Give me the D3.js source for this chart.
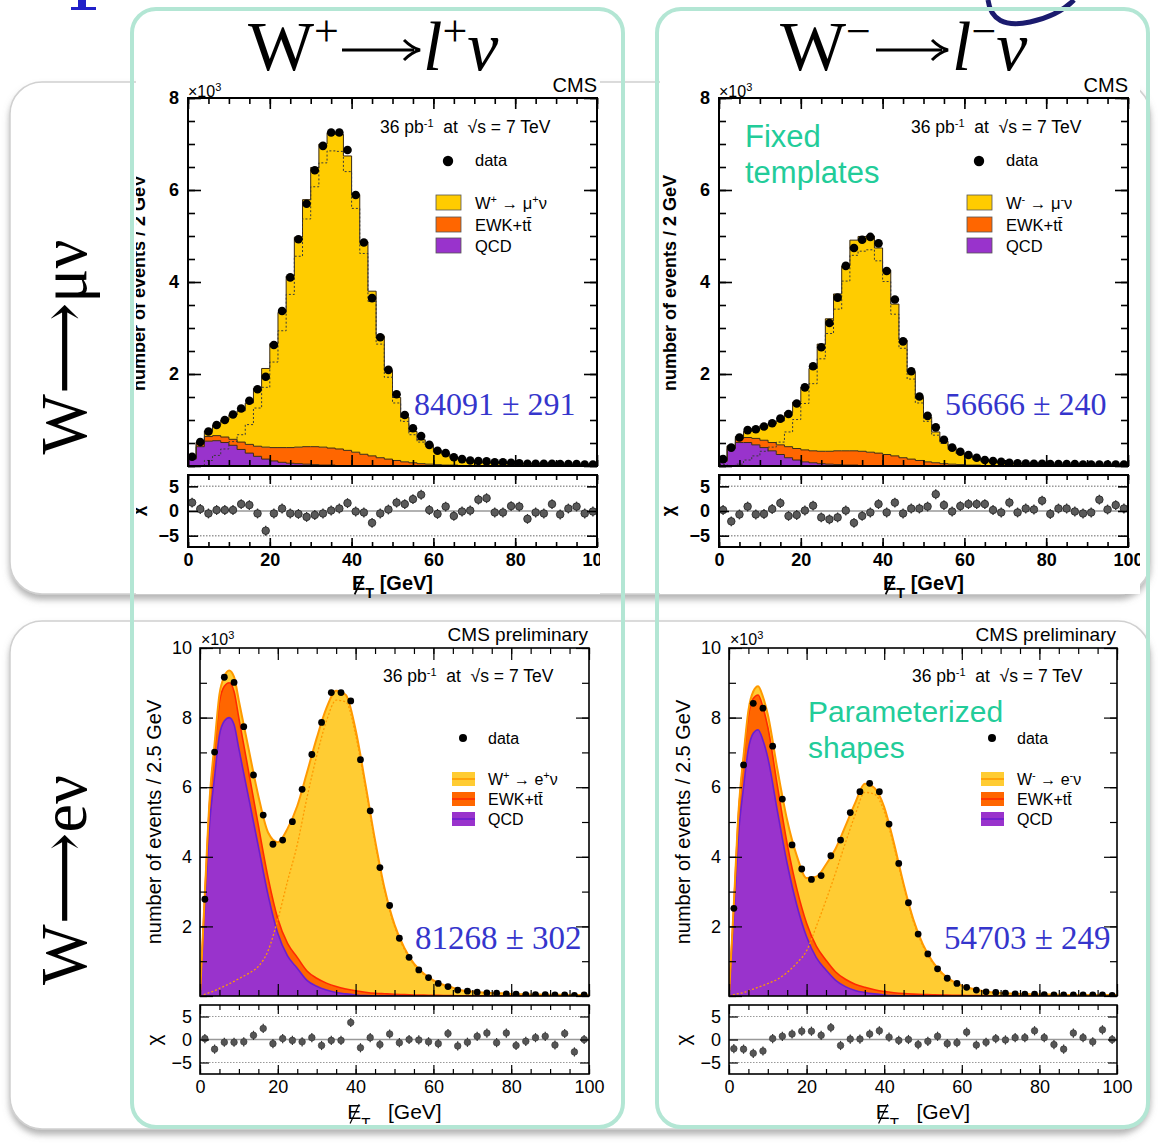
<!DOCTYPE html>
<html><head><meta charset="utf-8">
<script src="https://cdn.jsdelivr.net/npm/d3@7/dist/d3.min.js"></script>
<style>html,body{margin:0;padding:0;background:#fff;} svg{display:block;} text{white-space:pre;}</style>
</head><body>
<svg id="chart" width="1158" height="1144" font-family="'Liberation Sans', Arial, sans-serif"></svg>
<script>
// ================= DATA =================
const xTickLabels = [0, 20, 40, 60, 80, 100];
const muYTickLabels = [2, 4, 6, 8];
const eYTickLabels = [2, 4, 6, 8, 10];
const pullTickLabels = [-5, 0, 5];
const muBinLow = d3.range(0, 100, 2);     // 2 GeV bins
const eBinLow = d3.range(0, 100, 2.5);    // 2.5 GeV bins

// W+ -> mu+ nu (x10^3 events / 2 GeV)
const muPlusData = [0.20,0.52,0.75,0.89,1.00,1.12,1.25,1.42,1.67,1.94, 2.63,3.37,4.10,4.93,5.70,6.43,6.96,7.25,7.25,6.87, 5.89,4.86,3.65,2.80,2.09,1.56,1.11,0.82,0.65,0.46, 0.33,0.28,0.19,0.15,0.12,0.11,0.10,0.08,0.08,0.07, 0.06,0.05,0.05,0.05,0.05,0.04,0.04,0.04,0.03,0.03];
const muPlusQCD = [0.15,0.42,0.54,0.55,0.51,0.45,0.36,0.28,0.21,0.15, 0.11,0.08,0.06,0.05,0.04,0.03,0.02,0.02,0.01,0.01, 0.01,0,0,0,0,0,0,0,0,0, 0,0,0,0,0,0,0,0,0,0, 0,0,0,0,0,0,0,0,0,0];
const muPlusEWK = [0.02,0.09,0.10,0.11,0.12,0.13,0.16,0.19,0.22,0.26, 0.29,0.32,0.34,0.36,0.38,0.39,0.39,0.37,0.36,0.33, 0.29,0.255,0.22,0.18,0.15,0.12,0.09,0.07,0.05,0.04, 0.03,0.02,0.02,0.01,0.01,0.01,0.01,0.01,0.005,0.005, 0,0,0,0,0,0,0,0,0,0];
const muPlusW = [0.01,0.01,0.12,0.23,0.37,0.53,0.68,0.90,1.26,1.71, 2.26,2.94,3.73,4.56,5.37,6.07,6.59,6.85,6.84,6.40, 5.60,4.62,3.58,2.65,1.93,1.37,0.97,0.68,0.52,0.42, 0.31,0.25,0.18,0.14,0.11,0.08,0.065,0.07,0.06,0.06, 0.05,0.055,0.05,0.05,0.04,0.04,0.04,0.035,0.035,0.03];
const muPlusPull = [1.7,0.4,-0.5,0.2,0.2,0.2,1.4,1.2,-0.5,-4.0, -0.5,0.5,-0.5,-0.6,-1.2,-0.8,-0.5,0.1,0.5,1.6, -0.1,-0.3,-2.4,-0.5,0.3,1.7,1.4,2.4,3.3,0.2, -0.6,0.9,-1.0,-0.1,0.1,2.3,2.6,-0.3,-0.3,1.0, 0.9,-1.6,-0.3,-0.5,1.4,-0.7,0.5,0.9,-0.5,-0.1];

// W- -> mu- nu
const muMinusData = [0.15,0.40,0.62,0.78,0.80,0.86,0.93,1.03,1.13,1.36, 1.71,2.17,2.58,3.11,3.66,4.35,4.74,4.92,4.98,4.84, 4.24,3.62,2.71,2.06,1.51,1.09,0.84,0.57,0.40,0.31, 0.24,0.18,0.13,0.11,0.09,0.07,0.06,0.055,0.05,0.05, 0.04,0.04,0.04,0.04,0.03,0.03,0.03,0.03,0.03,0.03];
const muMinusQCD = [0.10,0.38,0.51,0.51,0.46,0.40,0.33,0.25,0.18,0.13, 0.09,0.07,0.05,0.04,0.03,0.02,0.02,0.01,0.01,0.01, 0.005,0,0,0,0,0,0,0,0,0, 0,0,0,0,0,0,0,0,0,0, 0,0,0,0,0,0,0,0,0,0];
const muMinusEWK = [0.02,0.05,0.09,0.11,0.14,0.16,0.18,0.21,0.24,0.25, 0.26,0.26,0.27,0.28,0.30,0.31,0.31,0.31,0.29,0.27, 0.245,0.22,0.18,0.15,0.12,0.09,0.07,0.05,0.04,0.03, 0.02,0.02,0.01,0.01,0.01,0.01,0.01,0.005,0.005,0.005, 0,0,0,0,0,0,0,0,0,0];
const muMinusW = [0.03,0.01,0.04,0.13,0.22,0.32,0.41,0.52,0.74,1.01, 1.36,1.79,2.33,2.88,3.41,4.02,4.58,4.67,4.70,4.46, 4.01,3.30,2.56,1.89,1.37,0.97,0.67,0.49,0.36,0.26, 0.20,0.14,0.10,0.09,0.08,0.05,0.05,0.045,0.04,0.035, 0.035,0.03,0.03,0.03,0.025,0.025,0.02,0.02,0.02,0.02];
const muMinusPull = [0.2,-2.1,-0.7,0.9,-0.7,-0.6,0.4,1.6,-1.0,-0.8, 0.1,1.1,-1.3,-1.7,-1.3,0.1,-2.4,-1.0,-0.3,1.4, -0.3,1.7,-0.5,0.5,0.5,0.9,3.4,1.2,-0.1,1.0, 1.4,1.4,1.4,0.2,-0.3,1.7,-0.3,0.5,0.3,2.1, -0.6,0.5,0.5,-0.1,-0.5,-0.3,2.3,0.3,1.2,0.5];

// Electron fit shapes, sampled on this MET grid (GeV)
const eGrid = [0,1.25,2.5,3.75,5,6.25,7.5,8.75,10,12.5,15,17.5,20,22.5,25,27.5,30,32.5,35,37.5,40,42.5,45,47.5,50,52.5,55,57.5,60,62.5,65,67.5,70,72.5,75,77.5,80,82.5,85,87.5,90,92.5,95,97.5,100];

// W+ -> e+ nu (x10^3 events / 2.5 GeV)
const ePlusQCD = [0,2.6,5.0,6.3,7.5,7.9,8.0,7.8,7.1, 5.7,4.3,2.9,1.8,1.15,0.8,0.45,0.28,0.17,0.1,0.06,0.03,0.01, 0,0,0,0,0,0,0,0,0,0,0,0,0,0,0,0,0,0,0,0,0,0,0];
const ePlusEWK = [0,0.3,0.6,0.8,0.95,1.0,1.0,0.95,0.88, 0.75,0.6,0.5,0.42,0.36,0.31,0.27,0.23,0.2,0.17,0.14,0.12,0.1,0.08,0.065,0.05,0.04,0.03,0.025,0.02,0.015,0.01, 0.006,0.006,0.006,0.006,0.006,0.006,0.006,0.006,0.006,0.006,0.006,0.006,0.006,0.006];
const ePlusW = [0,0.05,0.1,0.15,0.22,0.28,0.35,0.42,0.5, 0.65,0.85,1.3,2.2,3.3,4.35,5.7,6.9,7.9,8.5,8.45,7.5,6.0,4.4,3.0,2.0,1.35,0.9,0.62,0.43,0.31,0.23,0.15,0.12,0.095,0.08,0.07,0.055,0.045,0.04,0.035,0.03,0.03,0.025,0.025,0.02];
const ePlusData = [2.78,7.01,9.16,9.01,7.74,6.35,5.20,4.36,4.48,5.01, 5.94,6.94,7.86,8.72,8.72,8.48,6.79,5.32,3.69,2.60, 1.66,1.11,0.75,0.53,0.36,0.27,0.17,0.14,0.11,0.09, 0.08,0.06,0.05,0.04,0.04,0.04,0.03,0.03,0.02,0.03];
const ePlusPull = [0.2,-2.1,-0.6,-0.6,-0.5,0.9,2.4,-0.9,0.2,-0.2, -0.5,0.4,-1.3,-0.2,-0.2,3.7,-1.8,0.4,-1.1,1.2, -0.7,0,-0.1,-0.5,-0.9,1.3,-1.4,-0.6,0.7,1.4, -0.7,1.4,-1.3,-0.4,0.4,0.7,-1.2,1.3,-2.7,0];

// W- -> e- nu
const eMinusQCD = [0,2.3,4.7,6.0,7.1,7.55,7.65,7.35,6.85, 5.3,3.8,2.6,1.7,1.1,0.75,0.45,0.27,0.16,0.1,0.06,0.03,0.01, 0,0,0,0,0,0,0,0,0,0,0,0,0,0,0,0,0,0,0,0,0,0,0];
const eMinusEWK = [0,0.3,0.6,0.8,0.95,1.0,1.0,0.95,0.88, 0.72,0.57,0.47,0.39,0.33,0.28,0.24,0.21,0.18,0.15,0.12,0.1,0.085,0.07,0.055,0.045,0.035,0.028,0.022,0.018,0.014,0.01, 0.006,0.006,0.006,0.006,0.006,0.006,0.006,0.006,0.006,0.006,0.006,0.006,0.006,0.006];
const eMinusW = [0,0.04,0.07,0.1,0.15,0.2,0.25,0.3,0.36, 0.48,0.68,0.95,1.3,2.0,2.75,3.55,4.4,5.2,5.85,5.8,5.3,4.3,3.15,2.15,1.43,0.95,0.62,0.41,0.28,0.2,0.14,0.1,0.08,0.065,0.055,0.045,0.04,0.035,0.03,0.025,0.025,0.022,0.02,0.02,0.02];
const eMinusData = [2.52,6.64,8.41,8.27,7.18,5.66,4.34,3.65,3.35,3.46, 4.03,4.48,5.27,5.87,6.11,5.87,4.94,3.81,2.68,1.78, 1.21,0.78,0.51,0.36,0.25,0.17,0.12,0.10,0.08,0.06, 0.05,0.05,0.04,0.03,0.03,0.03,0.03,0.03,0.03,0.02];
const eMinusPull = [-2.0,-2.1,-3.0,-2.5,0.2,0.7,1.2,1.8,1.8,0.9, 2.6,-1.3,0.1,0.1,1.2,1.9,0.5,-0.2,0,-1.1, -0.4,0.7,-0.9,-0.7,1.6,-1.2,-0.6,0.2,-0.1,0.4, 0.4,1.9,0.4,-1.1,-2.1,1.4,0.4,-0.5,2.1,0];

const yieldLabels = ["84091 \u00b1 291", "56666 \u00b1 240", "81268 \u00b1 302", "54703 \u00b1 249"];

// ================= DRAWING =================
const svg = d3.select('#chart');
const defs = svg.append('defs');
const flt = defs.append('filter').attr('id','sh').attr('x','-5%').attr('y','-5%').attr('width','110%').attr('height','115%');
flt.append('feDropShadow').attr('dx',0).attr('dy',5).attr('stdDeviation',3).attr('flood-color','#777').attr('flood-opacity',0.55);

function clip(id, x, y, w, h){
  defs.append('clipPath').attr('id',id).append('rect').attr('x',x).attr('y',y).attr('width',w).attr('height',h);
}

// row boxes
svg.append('rect').attr('x',10).attr('y',82).attr('width',1140).attr('height',512).attr('rx',32)
  .attr('fill','#fff').attr('stroke','#d0d0d0').attr('stroke-width',1.5).attr('filter','url(#sh)');
svg.append('rect').attr('x',10).attr('y',621).attr('width',1140).attr('height',508).attr('rx',32)
  .attr('fill','#fff').attr('stroke','#d0d0d0').attr('stroke-width',1.5).attr('filter','url(#sh)');

// decorations at the top edge (bottom of a cut-off blue glyph, part of a logo swoosh)
svg.append('path').attr('d','M 78 0 L 86 0 L 86 7 L 96 7 L 96 10 L 71 10 L 71 7 L 78 7 Z').attr('fill','#2020c8');
svg.append('path').attr('d','M 988 0 Q 992 30 1030 22 Q 1058 16 1074 0').attr('fill','none')
  .attr('stroke','#1b1b6e').attr('stroke-width',5);

function rich(sel, parts, small){
  parts.forEach(p=>{
    const t = sel.append('tspan').text(p.t);
    if (p.sup) t.attr('baseline-shift','super').attr('font-size', small);
    if (p.sub) t.attr('baseline-shift','sub').attr('font-size', small);
    if (p.it) t.attr('font-style','italic');
  });
  return sel;
}

function inwardTicks(g, xs, ys, o){
  const [xl, xr] = xs.range();
  const [yb, yt] = ys.range();
  const add = (axis, tx, ty) => {
    const a = g.append('g').attr('transform',`translate(${tx},${ty})`).call(axis);
    a.select('.domain').remove();
    a.selectAll('line').attr('stroke','#000').attr('stroke-width',o.sw);
  };
  [[o.xMajor,o.maj],[o.xMinor,o.min]].forEach(([vals,len])=>{
    add(d3.axisBottom(xs).tickValues(vals).tickSize(-len).tickFormat(''), 0, yb);
    add(d3.axisTop(xs).tickValues(vals).tickSize(-len).tickFormat(''), 0, yt);
  });
  [[o.yMajor,o.ymaj],[o.yMinor,o.ymin]].forEach(([vals,len])=>{
    add(d3.axisLeft(ys).tickValues(vals).tickSize(-len).tickFormat(''), xl, 0);
    add(d3.axisRight(ys).tickValues(vals).tickSize(-len).tickFormat(''), xr, 0);
  });
}

function labelAxis(g, axis, tx, ty, fs, fw){
  const a = g.append('g').attr('transform',`translate(${tx},${ty})`).call(axis);
  a.select('.domain').remove();
  a.selectAll('line').remove();
  a.attr('font-family',null).attr('font-size',null);
  a.selectAll('text').attr('font-size',fs).attr('font-weight',fw).attr('fill','#000')
    .attr('font-family',"'Liberation Sans', Arial, sans-serif");
  return a;
}

function metTitle(g, cx, y, fs, fw, gap, sw){
  const t = g.append('text').attr('x',cx).attr('y',y).attr('text-anchor','middle')
    .attr('font-size',fs).attr('font-weight',fw);
  t.append('tspan').text('E');
  t.append('tspan').text('T').attr('baseline-shift','sub').attr('font-size',fs*0.72);
  t.append('tspan').text(gap + '[GeV]');
  const bb = t.node().getExtentOfChar(0);
  g.append('line').attr('x1', bb.x + bb.width*0.85).attr('y1', bb.y + bb.height*0.18)
    .attr('x2', bb.x + bb.width*0.2).attr('y2', bb.y + bb.height*1.02)
    .attr('stroke','#000').attr('stroke-width',sw);
}

// ---------- muon panel ----------
function muonPanel(p){
  clip(p.id, p.cx0, 74, p.cx1 - p.cx0, 524);
  clip(p.id+'m', p.x0, 98, p.x1 - p.x0, 368);
  clip(p.id+'p', p.x0, 475, p.x1 - p.x0, 72);
  const root = svg.append('g').attr('clip-path',`url(#${p.id})`);
  root.append('rect').attr('x',p.cx0).attr('y',74).attr('width',p.cx1-p.cx0).attr('height',520).attr('fill','#fff');
  const x = d3.scaleLinear().domain([0,100]).range([p.x0, p.x1]);
  const y = d3.scaleLinear().domain([0,8]).range([466, 98]);
  const yp = d3.scaleLinear().domain([-7.3,7.3]).range([547, 475]);

  const plot = root.append('g').attr('clip-path',`url(#${p.id}m)`);
  const recs = muBinLow.map((e,i)=>({e, qcd:p.qcd[i], ewk:p.ewk[i], w:p.w[i]}));
  recs.push(Object.assign({}, recs[recs.length-1], {e:100}));
  const layers = d3.stack().keys(['qcd','ewk','w'])(recs);
  const col = {qcd:'#9933cc', ewk:'#ff6600', w:'#ffcc00'};
  const area = d3.area().curve(d3.curveStepAfter).x(d=>x(d.data.e)).y0(d=>y(d[0])).y1(d=>y(d[1]));
  const top = d3.line().curve(d3.curveStepAfter).x(d=>x(d.data.e)).y(d=>y(d[1]));
  layers.forEach(L=>plot.append('path').attr('d',area(L)).attr('fill',col[L.key]));
  layers.forEach(L=>plot.append('path').attr('d',top(L)).attr('fill','none').attr('stroke','#3a2a14').attr('stroke-width',1));
  plot.append('path').attr('d', d3.line().curve(d3.curveStepAfter).x(d=>x(d.e)).y(d=>y(d.w))(recs))
    .attr('fill','none').attr('stroke','#3a3a3a').attr('stroke-width',1).attr('stroke-dasharray','2,2');
  plot.selectAll(null).data(p.data).enter().append('circle')
    .attr('cx',(d,i)=>x(muBinLow[i]+1)).attr('cy',d=>y(d)).attr('r',4.3).attr('fill','#000');

  // pull
  const pg = root.append('g').attr('clip-path',`url(#${p.id}p)`);
  pg.append('line').attr('x1',p.x0).attr('x2',p.x1).attr('y1',yp(0)).attr('y2',yp(0)).attr('stroke','#999').attr('stroke-width',1.5);
  [-5,5].forEach(v=>pg.append('line').attr('x1',p.x0).attr('x2',p.x1).attr('y1',yp(v)).attr('y2',yp(v))
    .attr('stroke','#999').attr('stroke-width',1.5).attr('stroke-dasharray','1.5,1.5'));
  pg.selectAll(null).data(p.pull).enter().append('line')
    .attr('x1',(d,i)=>x(muBinLow[i]+1)).attr('x2',(d,i)=>x(muBinLow[i]+1))
    .attr('y1',d=>yp(d-1)).attr('y2',d=>yp(d+1)).attr('stroke','#333').attr('stroke-width',1.3);
  pg.selectAll(null).data(p.pull).enter().append('circle')
    .attr('cx',(d,i)=>x(muBinLow[i]+1)).attr('cy',d=>yp(d)).attr('r',3.8).attr('fill','#5a5a5a').attr('stroke','#222').attr('stroke-width',0.8);

  // frames
  root.append('rect').attr('x',p.x0).attr('y',98).attr('width',p.x1-p.x0).attr('height',368).attr('fill','none').attr('stroke','#000').attr('stroke-width',2);
  root.append('rect').attr('x',p.x0).attr('y',475).attr('width',p.x1-p.x0).attr('height',72).attr('fill','none').attr('stroke','#000').attr('stroke-width',2);
  const xMinor = d3.range(0,101,5);
  inwardTicks(root, x, y, {xMajor:xTickLabels, xMinor, maj:11, min:6, yMajor:muYTickLabels.concat([0]), yMinor:d3.range(0,8.01,0.5), ymaj:13, ymin:7, sw:1.6});
  inwardTicks(root, x, yp, {xMajor:xTickLabels, xMinor, maj:9, min:5, yMajor:pullTickLabels, yMinor:[], ymaj:10, ymin:0, sw:1.6});

  // axis labels
  labelAxis(root, d3.axisLeft(y).tickValues(muYTickLabels).tickSize(0).tickPadding(9), p.x0, 0, 18, 'bold');
  labelAxis(root, d3.axisLeft(yp).tickValues(pullTickLabels).tickSize(0).tickPadding(9), p.x0, 0, 18, 'bold');
  labelAxis(root, d3.axisBottom(x).tickValues(xTickLabels).tickSize(0).tickPadding(6), 0, 547, 18, 'bold');

  rich(root.append('text').attr('x',p.x0).attr('y',97).attr('font-size',16),
    [{t:'\u00d710'},{t:'3',sup:true}], 11);
  root.append('text').attr('x',p.x1).attr('y',92).attr('text-anchor','end').attr('font-size',20).text('CMS');
  root.append('text').attr('transform',`translate(${p.x0-43},283) rotate(-90)`).attr('text-anchor','middle')
    .attr('font-size',18).attr('font-weight','bold').text('number of events / 2 GeV');
  root.append('text').attr('transform',`translate(${p.x0-45},511) rotate(-90)`).attr('text-anchor','middle')
    .attr('font-size',18).attr('font-weight','bold').text('\u03c7');
  metTitle(root, (p.x0+p.x1)/2, 590, 20, 'bold', ' ', 1.8);

  // legend & labels
  rich(root.append('text').attr('x',p.x0+192).attr('y',133).attr('font-size',17.5),
    [{t:'36 pb'},{t:'-1',sup:true},{t:'  at  \u221as = 7 TeV'}], 11);
  root.append('circle').attr('cx',p.x0+260).attr('cy',161).attr('r',5.2).attr('fill','#000');
  root.append('text').attr('x',p.x0+287).attr('y',166).attr('font-size',16.5).text('data');
  const leg = [{c:col.w, y:195, parts:p.legW}, {c:col.ewk, y:217, parts:[{t:'EWK+t'},{t:'t\u0304'}]}, {c:col.qcd, y:238, parts:[{t:'QCD'}]}];
  leg.forEach(l=>{
    root.append('rect').attr('x',p.x0+248).attr('y',l.y).attr('width',25).attr('height',15).attr('fill',l.c).attr('stroke','#555').attr('stroke-width',0.8);
    rich(root.append('text').attr('x',p.x0+287).attr('y',l.y+13.5).attr('font-size',16.5), l.parts, 11);
  });
  root.append('text').attr('x',p.x0+226).attr('y',415).attr('font-family',"'Liberation Serif', serif")
    .attr('font-size',32).attr('fill','#3535cc').text(p.yield);
}

// ---------- electron panel ----------
function elecPanel(p){
  clip(p.id, p.cx0, 624, p.cx1 - p.cx0, 500);
  clip(p.id+'m', p.x0, 648, p.x1 - p.x0, 348);
  clip(p.id+'p', p.x0, 1005, p.x1 - p.x0, 69);
  const root = svg.append('g').attr('clip-path',`url(#${p.id})`);
  const x = d3.scaleLinear().domain([0,100]).range([p.x0, p.x1]);
  const y = d3.scaleLinear().domain([0,10]).range([996, 648]);
  const yp = d3.scaleLinear().domain([-7.5,7.5]).range([1074, 1005]);

  const plot = root.append('g').attr('clip-path',`url(#${p.id}m)`);
  const recs = eGrid.map((g,i)=>({g, qcd:p.qcd[i], ewk:p.ewk[i], w:p.w[i]}));
  const layers = d3.stack().keys(['qcd','ewk','w'])(recs);
  const fillC = {qcd:'#9933cc', ewk:'#ff6600', w:'#ffcc33'};
  const lineC = {qcd:'#6a1fd0', ewk:'#ff2a00', w:'#ff9900'};
  const lineW = {qcd:1.6, ewk:1.6, w:2};
  const cur = d3.curveMonotoneX;
  const area = d3.area().curve(cur).x(d=>x(d.data.g)).y0(d=>y(d[0])).y1(d=>y(d[1]));
  const top = d3.line().curve(cur).x(d=>x(d.data.g)).y(d=>y(d[1]));
  layers.forEach(L=>plot.append('path').attr('d',area(L)).attr('fill',fillC[L.key]));
  layers.forEach(L=>plot.append('path').attr('d',top(L)).attr('fill','none').attr('stroke',lineC[L.key]).attr('stroke-width',lineW[L.key]));
  plot.append('path').attr('d', d3.line().curve(cur).x(d=>x(d.g)).y(d=>y(d.w))(recs))
    .attr('fill','none').attr('stroke','#ff9900').attr('stroke-width',1.3).attr('stroke-dasharray','2,2');
  plot.selectAll(null).data(p.data).enter().append('circle')
    .attr('cx',(d,i)=>x(eBinLow[i]+1.25)).attr('cy',d=>y(d)).attr('r',3.4).attr('fill','#000');

  const pg = root.append('g').attr('clip-path',`url(#${p.id}p)`);
  pg.append('line').attr('x1',p.x0).attr('x2',p.x1).attr('y1',yp(0)).attr('y2',yp(0)).attr('stroke','#999').attr('stroke-width',1.5);
  [-5,5].forEach(v=>pg.append('line').attr('x1',p.x0).attr('x2',p.x1).attr('y1',yp(v)).attr('y2',yp(v))
    .attr('stroke','#999').attr('stroke-width',1.2).attr('stroke-dasharray','1.5,1.5'));
  pg.selectAll(null).data(p.pull).enter().append('line')
    .attr('x1',(d,i)=>x(eBinLow[i]+1.25)).attr('x2',(d,i)=>x(eBinLow[i]+1.25))
    .attr('y1',d=>yp(d-1)).attr('y2',d=>yp(d+1)).attr('stroke','#333').attr('stroke-width',1.2);
  pg.selectAll(null).data(p.pull).enter().append('circle')
    .attr('cx',(d,i)=>x(eBinLow[i]+1.25)).attr('cy',d=>yp(d)).attr('r',3.3).attr('fill','#555').attr('stroke','#333').attr('stroke-width',0.6);

  root.append('rect').attr('x',p.x0).attr('y',648).attr('width',p.x1-p.x0).attr('height',348).attr('fill','none').attr('stroke','#000').attr('stroke-width',1.6);
  root.append('rect').attr('x',p.x0).attr('y',1005).attr('width',p.x1-p.x0).attr('height',69).attr('fill','none').attr('stroke','#000').attr('stroke-width',1.6);
  const xMinor = d3.range(0,101,5);
  inwardTicks(root, x, y, {xMajor:xTickLabels, xMinor, maj:12, min:6, yMajor:eYTickLabels.concat([0]), yMinor:d3.range(0,10.01,1), ymaj:13, ymin:7, sw:1.2});
  inwardTicks(root, x, yp, {xMajor:xTickLabels, xMinor, maj:9, min:5, yMajor:pullTickLabels, yMinor:[], ymaj:9, ymin:0, sw:1.2});

  labelAxis(root, d3.axisLeft(y).tickValues(eYTickLabels).tickSize(0).tickPadding(8), p.x0, 0, 18, 'normal');
  labelAxis(root, d3.axisLeft(yp).tickValues(pullTickLabels).tickSize(0).tickPadding(8), p.x0, 0, 18, 'normal');
  labelAxis(root, d3.axisBottom(x).tickValues(xTickLabels).tickSize(0).tickPadding(6), 0, 1074, 18, 'normal');

  rich(root.append('text').attr('x',p.x0+1).attr('y',645).attr('font-size',16),
    [{t:'\u00d710'},{t:'3',sup:true}], 11);
  root.append('text').attr('x',p.x1-1).attr('y',641).attr('text-anchor','end').attr('font-size',19).text('CMS preliminary');
  root.append('text').attr('transform',`translate(${p.x0-39},822) rotate(-90)`).attr('text-anchor','middle')
    .attr('font-size',20).text('number of events / 2.5 GeV');
  root.append('text').attr('transform',`translate(${p.x0-39},1040) rotate(-90)`).attr('text-anchor','middle')
    .attr('font-size',21).text('\u03c7');
  metTitle(root, (p.x0+p.x1)/2, 1119, 21, 'normal', '\u00a0\u00a0\u00a0', 1.2);

  rich(root.append('text').attr('x',p.x0+183).attr('y',682).attr('font-size',17.5),
    [{t:'36 pb'},{t:'-1',sup:true},{t:'  at  \u221as = 7 TeV'}], 11);
  root.append('circle').attr('cx',p.x0+263).attr('cy',738).attr('r',4).attr('fill','#000');
  root.append('text').attr('x',p.x0+288).attr('y',744).attr('font-size',16).text('data');
  const leg = [{k:'w', y:772, parts:p.legW}, {k:'ewk', y:792, parts:[{t:'EWK+t'},{t:'t\u0304'}]}, {k:'qcd', y:812, parts:[{t:'QCD'}]}];
  leg.forEach(l=>{
    root.append('rect').attr('x',p.x0+252).attr('y',l.y).attr('width',23).attr('height',14).attr('fill',fillC[l.k]);
    root.append('line').attr('x1',p.x0+252).attr('x2',p.x0+275).attr('y1',l.y+7).attr('y2',l.y+7).attr('stroke',lineC[l.k]).attr('stroke-width',1.6);
    rich(root.append('text').attr('x',p.x0+288).attr('y',l.y+13).attr('font-size',16), l.parts, 11);
  });
  root.append('text').attr('x',p.x0+215).attr('y',949).attr('font-family',"'Liberation Serif', serif")
    .attr('font-size',33).attr('fill','#3535cc').text(p.yield);
}

muonPanel({id:'tl', cx0:136, cx1:600, x0:188, x1:597, data:muPlusData, qcd:muPlusQCD, ewk:muPlusEWK, w:muPlusW, pull:muPlusPull,
  yield:yieldLabels[0], legW:[{t:'W'},{t:'+',sup:true},{t:' \u2192 \u03bc'},{t:'+',sup:true},{t:'\u03bd'}]});
muonPanel({id:'tr', cx0:660, cx1:1140, x0:719, x1:1128, data:muMinusData, qcd:muMinusQCD, ewk:muMinusEWK, w:muMinusW, pull:muMinusPull,
  yield:yieldLabels[1], legW:[{t:'W'},{t:'-',sup:true},{t:' \u2192 \u03bc'},{t:'-',sup:true},{t:'\u03bd'}]});
elecPanel({id:'bl', cx0:136, cx1:625, x0:200, x1:589, data:ePlusData, qcd:ePlusQCD, ewk:ePlusEWK, w:ePlusW, pull:ePlusPull,
  yield:yieldLabels[2], legW:[{t:'W'},{t:'+',sup:true},{t:' \u2192 e'},{t:'+',sup:true},{t:'\u03bd'}]});
elecPanel({id:'br', cx0:660, cx1:1140, x0:729, x1:1117, data:eMinusData, qcd:eMinusQCD, ewk:eMinusEWK, w:eMinusW, pull:eMinusPull,
  yield:yieldLabels[3], legW:[{t:'W'},{t:'-',sup:true},{t:' \u2192 e'},{t:'-',sup:true},{t:'\u03bd'}]});

// teal annotations
const teal = '#22cc99';
[['Fixed',147],['templates',183]].forEach(([s,yy])=>svg.append('text').attr('x',745).attr('y',yy).attr('font-size',31).attr('fill',teal).text(s));
[['Parameterized',722],['shapes',758]].forEach(([s,yy])=>svg.append('text').attr('x',808).attr('y',yy).attr('font-size',30).attr('fill',teal).text(s));

// column boxes
[[132,9],[657,9]].forEach(([bx,by])=>svg.append('rect').attr('x',bx).attr('y',by).attr('width',491).attr('height',1118)
  .attr('rx',24).attr('fill','none').attr('stroke','#b3e6d4').attr('stroke-width',4));

// column titles: "W± ⟶ l± ν" drawn as two text pieces and an arrow
const serif = "'Liberation Serif', 'DejaVu Serif', 'Times New Roman', serif";
function columnTitle(sign, xW, xArr0, xArr1, xL){
  rich(svg.append('text').attr('x',xW).attr('y',70).attr('font-family',serif).attr('font-size',70),
    [{t:'W'},{t:sign,sup:true}], 44);
  svg.append('line').attr('x1',xArr0).attr('x2',xArr1-6).attr('y1',50).attr('y2',50).attr('stroke','#000').attr('stroke-width',3);
  svg.append('path').attr('d',`M ${xArr1-16} 40 Q ${xArr1-8} 48 ${xArr1} 50 Q ${xArr1-8} 52 ${xArr1-16} 60`)
    .attr('fill','none').attr('stroke','#000').attr('stroke-width',3);
  rich(svg.append('text').attr('x',xL).attr('y',70).attr('font-family',serif).attr('font-size',70),
    [{t:'l',it:true},{t:sign,sup:true},{t:'\u03bd',it:true}], 44);
}
columnTitle('+', 248, 342, 420, 423);
columnTitle('\u2212', 780, 876, 948, 952);

// row titles
svg.append('text').attr('transform','translate(86,347) rotate(-90)').attr('text-anchor','middle').attr('font-family',serif)
  .attr('font-size',66).attr('textLength',215).attr('lengthAdjust','spacingAndGlyphs').text('W\u27f6\u03bc\u03bd');
svg.append('text').attr('transform','translate(86,880) rotate(-90)').attr('text-anchor','middle').attr('font-family',serif)
  .attr('font-size',66).attr('textLength',210).attr('lengthAdjust','spacingAndGlyphs').text('W\u27f6e\u03bd');
</script>
</body></html>
